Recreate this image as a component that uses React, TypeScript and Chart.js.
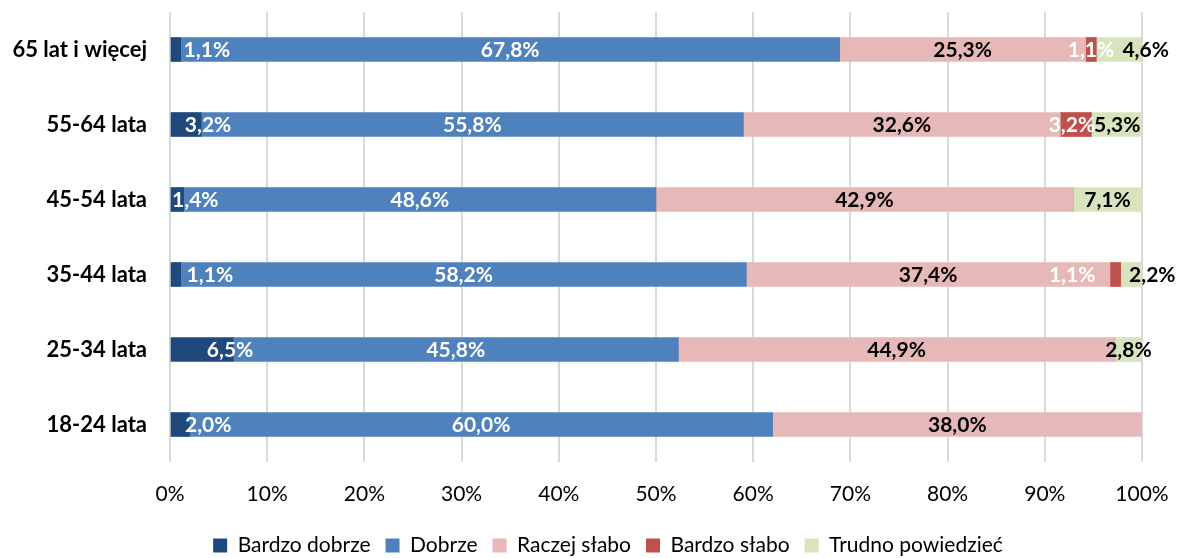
import React, { useEffect, useRef } from "react";
import { Chart, registerables } from "chart.js";

Chart.register(...registerables);

const categories = ["65 lat i więcej", "55-64 lata", "45-54 lata", "35-44 lata", "25-34 lata", "18-24 lata"];
const seriesNames = ["Bardzo dobrze", "Dobrze", "Raczej słabo", "Bardzo słabo", "Trudno powiedzieć"];
const bardzoDobrze = [1.1, 3.2, 1.4, 1.1, 6.5, 2.0];
const dobrze = [67.8, 55.8, 48.6, 58.2, 45.8, 60.0];
const raczejSlabo = [25.3, 32.6, 42.9, 37.4, 44.9, 38.0];
const bardzoSlabo = [1.1, 3.2, 0, 1.1, 0, 0];
const trudno = [4.6, 5.3, 7.1, 2.2, 2.8, 0];
const tickLabels = ["0%", "10%", "20%", "30%", "40%", "50%", "60%", "70%", "80%", "90%", "100%"];

const colors = ["#1F497D", "#4F81BD", "#E6B9B8", "#C0504D", "#D7E4BD"];
const labelColors = ["#FFFFFF", "#FFFFFF", "#000000", "#FFFFFF", "#000000"];
// horizontal nudges (px) of the value labels, per series, per category
const labelNudge = [
  [31, 22, 18, 34, 28, 28],
  [0, 0, 0, 0, 0, 0],
  [0, 0, 0, 0, 0, 0],
  [0, -4, 0, -43, 0, 0],
  [27, 0, 0, 21, 0, 0],
];

const FONT = "Lato, 'Open Sans', sans-serif";

const valueLabels = {
  id: "valueLabels",
  afterDatasetsDraw(chart: any) {
    const ctx = chart.ctx;
    ctx.save();
    ctx.font = `bold 21px ${FONT}`;
    ctx.textAlign = "center";
    ctx.textBaseline = "middle";
    chart.data.datasets.forEach((ds: any, di: number) => {
      const meta = chart.getDatasetMeta(di);
      meta.data.forEach((el: any, i: number) => {
        const v = ds.data[i];
        if (!v) return;
        const cx = (el.x + el.base) / 2 + labelNudge[di][i];
        ctx.fillStyle = labelColors[di];
        ctx.fillText(v.toFixed(1).replace(".", ",") + "%", cx, el.y + 1);
      });
    });
    ctx.restore();
  },
};

// nudge the legend row to the right, as in the original
const legendShift = {
  id: "legendShift",
  afterLayout(chart: any) {
    const l = chart.legend;
    if (!l) return;
    l.left += 37;
    l.right += 37;
  },
};

export default function App() {
  const ref = useRef<HTMLCanvasElement>(null);
  useEffect(() => {
    const series = [bardzoDobrze, dobrze, raczejSlabo, bardzoSlabo, trudno];
    const chart = new Chart(ref.current!, {
      type: "bar",
      data: {
        labels: categories,
        datasets: series.map((d, i) => ({
          label: seriesNames[i],
          data: d,
          backgroundColor: colors[i],
          borderWidth: 0,
          barThickness: 24,
        })),
      },
      options: {
        indexAxis: "y",
        animation: false,
        responsive: false,
        maintainAspectRatio: false,
        layout: { padding: { left: 0, right: 38, top: 12, bottom: 0 } },
        scales: {
          x: {
            stacked: true,
            min: 0,
            max: 100,
            border: { display: false },
            grid: { color: "#D9D9D9", lineWidth: 2, drawTicks: false },
            ticks: {
              stepSize: 10,
              padding: 20,
              color: "#000",
              maxRotation: 0,
              font: { family: FONT, size: 21 },
              callback: (_v: any, i: number) => tickLabels[i],
            },
            afterFit: (s: any) => {
              s.height = 58;
              s.paddingLeft = 0;
              s.paddingRight = 0;
              s.paddingTop = 0;
              s.paddingBottom = 0;
            },
          },
          y: {
            stacked: true,
            border: { display: false },
            grid: { display: false, drawTicks: false },
            ticks: {
              color: "#000",
              padding: 23,
              font: { family: FONT, size: 22, weight: "bold" },
            },
            afterFit: (s: any) => {
              s.width = 170;
              s.paddingLeft = 0;
              s.paddingRight = 0;
              s.paddingTop = 0;
              s.paddingBottom = 0;
            },
          },
        },
        plugins: {
          legend: {
            position: "bottom",
            maxHeight: 38,
            labels: {
              boxWidth: 14,
              boxHeight: 14,
              padding: 15,
              color: "#000",
              font: { family: FONT, size: 21 },
            },
          },
          tooltip: { enabled: false },
        },
      },
      plugins: [valueLabels, legendShift],
    });
    return () => chart.destroy();
  }, []);
  return (
    <div style={{ position: "fixed", left: 0, top: 0, width: 1180, height: 558, background: "#fff" }}>
      <canvas ref={ref} width={1180} height={558} />
    </div>
  );
}
